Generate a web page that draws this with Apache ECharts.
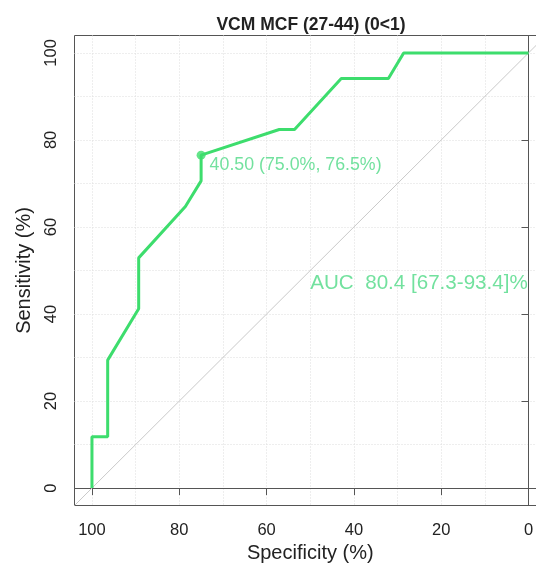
<!DOCTYPE html>
<html>
<head>
<meta charset="utf-8">
<script src="https://cdn.jsdelivr.net/npm/echarts@6/dist/echarts.min.js"></script>
<style>
  html, body { margin: 0; padding: 0; background: #fff; }
  #rocChart { width: 536px; height: 565px; }
</style>
</head>
<body>
<div id="rocChart"></div>
<script>
// ROC curve points (specificity %, sensitivity %)
var specificity = [100, 100, 96.4, 96.4, 89.3, 89.3, 78.6, 75.0, 75.0, 57.1, 53.6, 42.9, 32.1, 28.6, 0]
var sensitivity = [0, 11.8, 11.8, 29.4, 41.2, 52.9, 64.7, 70.6, 76.5, 82.4, 82.4, 94.1, 94.1, 100, 100]

// best threshold
var thrValue = 40.50
var thrSpec = 75.0
var thrSens = 76.5

// AUC and CI
var aucValue = 80.4
var aucLow = 67.3
var aucHigh = 93.4
var aucSpec = 50
var aucSens = 50

// axis limits (R adds 4% each side) and ticks
var axisMin = -4
var axisMax = 104
var tickValues = [0, 20, 40, 60, 80, 100]
var gridValues = [0, 10, 20, 30, 40, 50, 60, 70, 80, 90, 100]

var green = '#3ddd6d'
var textGreen = '#4fd986'
var fontName = 'Liberation Sans, Arial, sans-serif'

var curve = specificity.map(function (s, i) { return [s, sensitivity[i]] })
// chance line sens = 100 - spec over the whole plot region
var diagonal = [[axisMax, 100 - axisMax], [axisMin, 100 - axisMin]]

var chart = echarts.init(document.getElementById('rocChart'))

function gridAxis() {
  return {
    type: 'value', min: axisMin, max: axisMax,
    axisLine: { show: false },
    axisTick: { show: false, customValues: gridValues },
    axisLabel: { show: false },
    splitLine: { show: true, lineStyle: { type: [1, 2], color: '#dcdcdc', width: 1 } }
  }
}

function tickAxis(name, rotate, margin, gap) {
  return {
    type: 'value', min: axisMin, max: axisMax,
    name: name,
    nameLocation: 'middle',
    nameGap: gap,
    nameTextStyle: { fontSize: 20, color: '#222', fontFamily: fontName },
    axisLine: { show: true, lineStyle: { color: '#555', width: 1 } },
    axisTick: { show: true, length: 7, customValues: tickValues, lineStyle: { color: '#555' } },
    axisLabel: {
      show: true, customValues: tickValues, rotate: rotate, margin: margin,
      fontSize: 16.5, color: '#222', fontFamily: fontName
    },
    splitLine: { show: false }
  }
}

var xGrid = gridAxis()
xGrid.inverse = true
var xTicks = tickAxis('Specificity (%)', 0, 16, 36)
xTicks.inverse = true
xTicks.position = 'bottom'
var yGrid = gridAxis()
var yTicks = tickAxis('Sensitivity (%)', 90, 15, 36)
yTicks.position = 'left'

chart.setOption({
  animation: false,
  title: {
    text: 'VCM MCF (27-44) (0<1)',
    left: 306,
    textAlign: 'center',
    top: 11,
    textStyle: { fontSize: 17.5, fontWeight: 'bold', color: '#222', fontFamily: fontName }
  },
  grid: {
    left: 74.5, right: -10, top: 35.5, bottom: 59.5,
    show: true, borderColor: '#555', borderWidth: 1,
    outerBoundsMode: 'none'
  },
  xAxis: [xGrid, xTicks],
  yAxis: [yGrid, yTicks],
  series: [
    {
      type: 'line',
      data: diagonal,
      symbol: 'none',
      silent: true,
      clip: false,
      lineStyle: { color: '#c9c9c9', width: 1 }
    },
    {
      type: 'line',
      data: curve,
      symbol: 'none',
      lineStyle: { color: green, width: 3 }
    },
    {
      type: 'scatter',
      data: [[thrSpec, thrSens]],
      symbolSize: 9,
      itemStyle: { color: green },
      label: {
        show: true,
        position: 'right',
        distance: 4,
        offset: [0, 10],
        formatter: thrValue.toFixed(2) + ' (' + thrSpec.toFixed(1) + '%, ' + thrSens.toFixed(1) + '%)',
        fontSize: 17.8, color: textGreen, fontFamily: fontName
      }
    },
    {
      type: 'scatter',
      data: [[aucSpec, aucSens]],
      symbolSize: 0,
      silent: true,
      label: {
        show: true,
        position: [0, 2],
        align: 'left',
        verticalAlign: 'top',
        formatter: 'AUC  ' + aucValue.toFixed(1) + ' [' + aucLow.toFixed(1) + '-' + aucHigh.toFixed(1) + ']%',
        fontSize: 20.6, color: textGreen, fontFamily: fontName
      }
    }
  ]
})
</script>
</body>
</html>
